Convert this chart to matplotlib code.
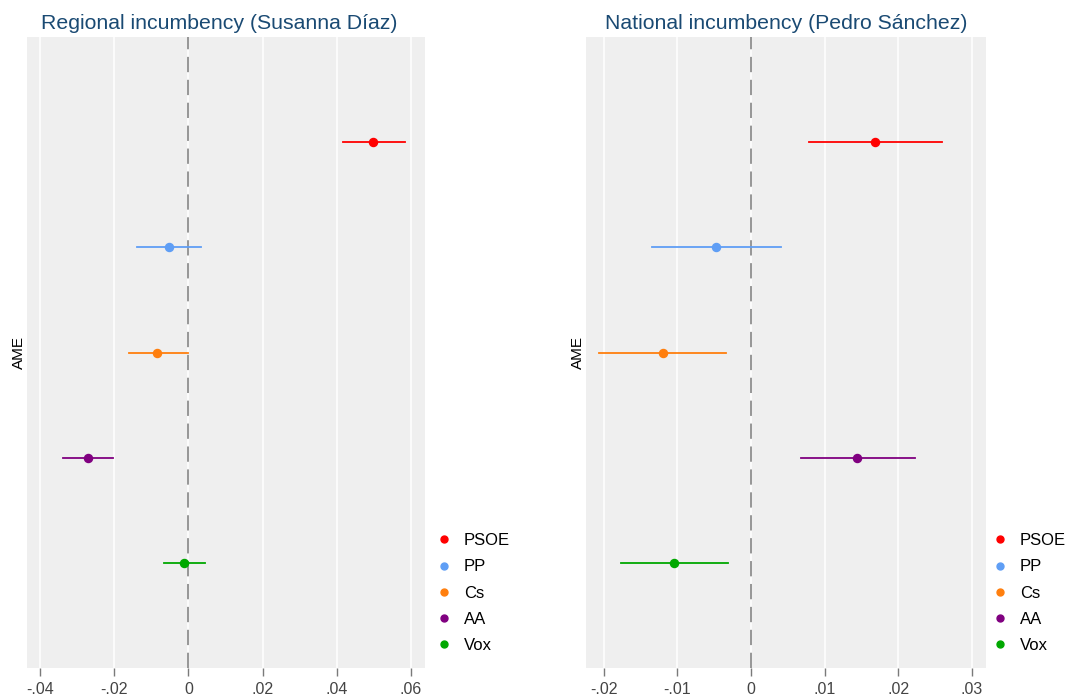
import matplotlib
matplotlib.use('Agg')
import matplotlib.pyplot as plt
from matplotlib.lines import Line2D

plt.rcParams['font.family'] = ['Liberation Sans', 'DejaVu Sans']

# data
parties = ['PSOE', 'PP', 'Cs', 'AA', 'Vox']
colors = ['#ff0000', '#5f9ef5', '#ff7f0e', '#800080', '#00a800']

reg_ame = [0.0497, -0.0051, -0.0084, -0.0270, -0.0011]
reg_lo = [0.0416, -0.0138, -0.0160, -0.0338, -0.0065]
reg_hi = [0.0584, 0.0035, 0.0000, -0.0203, 0.0046]

nat_ame = [0.0168, -0.0048, -0.0120, 0.0144, -0.0104]
nat_lo = [0.0078, -0.0134, -0.0206, 0.0068, -0.0176]
nat_hi = [0.0259, 0.0040, -0.0034, 0.0222, -0.0031]

reg_ticks = [-0.04, -0.02, 0, 0.02, 0.04, 0.06]
reg_ticklabels = ['-.04', '-.02', '0', '.02', '.04', '.06']
nat_ticks = [-0.02, -0.01, 0, 0.01, 0.02, 0.03]
nat_ticklabels = ['-.02', '-.01', '0', '.01', '.02', '.03']

fig = plt.figure(figsize=(10.69, 6.97), dpi=100)
ax1 = fig.add_axes([0.0253, 0.0416, 0.3723, 0.9053])
ax2 = fig.add_axes([0.5482, 0.0416, 0.3742, 0.9053])

panels = [
    (ax1, 'Regional incumbency (Susanna Díaz)', reg_ame, reg_lo, reg_hi,
     reg_ticks, reg_ticklabels, (-0.0435, 0.0638), 0.482, 1.026),
    (ax2, 'National incumbency (Pedro Sánchez)', nat_ame, nat_lo, nat_hi,
     nat_ticks, nat_ticklabels, (-0.0224, 0.0319), 0.5, 1.014),
]

for ax, title, ame, lo, hi, ticks, labels, xlim, tx, lx in panels:
    ax.set_facecolor('#efefef')
    for t in ticks:
        ax.axvline(t, color='white', lw=1.1, zorder=0)
    ax.axvline(0, color='#7a7a7a', lw=1.1, dashes=(10, 5), zorder=1)
    for i in range(len(parties)):
        y = i + 1
        ax.plot([lo[i], hi[i]], [y, y], color=colors[i], lw=1.3, zorder=2)
        ax.plot(ame[i], y, 'o', color=colors[i], ms=5.8, zorder=3)
    ax.set_xlim(xlim)
    ax.set_ylim(6, 0)
    ax.set_xticks(ticks)
    ax.set_xticklabels(labels)
    ax.set_yticks([])
    ax.tick_params(axis='x', colors='#7a7a7a', labelcolor='#444444',
                   labelsize=11.5, length=6, width=1, pad=4)
    for s in ax.spines.values():
        s.set_visible(False)
    ax.set_ylabel('AME', fontsize=11, labelpad=1)
    ax.set_title(title, color='#1a4a73', fontsize=15.3, pad=6, x=tx)
    handles = [Line2D([], [], marker='o', ls='', color=c, ms=5) for c in colors]
    ax.legend(handles, parties, loc='lower left', bbox_to_anchor=(lx, 0.024),
              frameon=False, fontsize=12, handletextpad=0.7, borderpad=0,
              borderaxespad=0, labelspacing=0.67, handlelength=1.0)

fig.savefig('out.png', dpi=100)
